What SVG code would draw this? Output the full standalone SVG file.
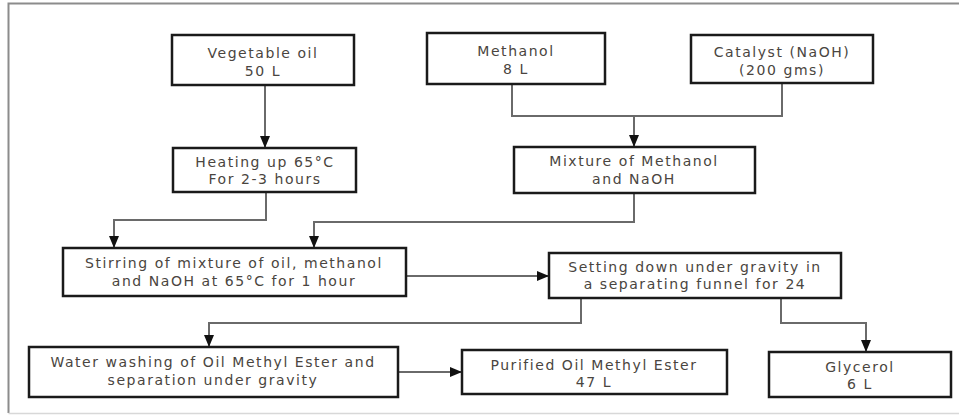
<svg xmlns="http://www.w3.org/2000/svg" width="959" height="416" viewBox="0 0 959 416">
<defs>
<style>
.box{fill:#fff;stroke:#1a1a1a;stroke-width:2.5}
.t{font-family:"DejaVu Sans",sans-serif;font-size:14px;fill:#4a4540;text-anchor:middle;letter-spacing:1.55px}
.c{fill:none;stroke:#6a6a6a;stroke-width:2}
</style>
<marker id="ah" viewBox="0 0 12 10" refX="12" refY="5" markerWidth="12" markerHeight="10" markerUnits="userSpaceOnUse" orient="auto">
<path d="M0,0 L12,5 L0,10 z" fill="#111"/>
</marker>
</defs>
<rect width="959" height="416" fill="#fff"/>
<path d="M959,3.5 H8.5 V413" fill="none" stroke="#8c8c8c" stroke-width="2"/>
<path d="M8.5,413.5 H959" fill="none" stroke="#d8d8d8" stroke-width="1.5"/>
<g id="connectors">
<path class="c" d="M265,85 V148" marker-end="url(#ah)"/>
<path class="c" d="M512,84 V116 H782 V83"/>
<path class="c" d="M634,116 V147" marker-end="url(#ah)"/>
<path class="c" d="M266,192 V220 H114 V248" marker-end="url(#ah)"/>
<path class="c" d="M634,193 V222 H314 V248" marker-end="url(#ah)"/>
<path class="c" d="M406,276 H549" marker-end="url(#ah)"/>
<path class="c" d="M581,298 V323 H209 V347" marker-end="url(#ah)"/>
<path class="c" d="M781,298 V323 H866 V352" marker-end="url(#ah)"/>
<path class="c" d="M398,372 H462" marker-end="url(#ah)"/>
</g>
<g id="veg"><rect class="box" x="172" y="35" width="182" height="50"/>
<text class="t" x="263" y="58">Vegetable oil</text><text class="t" x="263" y="76">50 L</text></g>
<g id="methanol"><rect class="box" x="427" y="33" width="178" height="51"/>
<text class="t" x="516" y="56">Methanol</text><text class="t" x="516" y="74">8 L</text></g>
<g id="catalyst"><rect class="box" x="691" y="35" width="182" height="48"/>
<text class="t" x="782" y="57">Catalyst (NaOH)</text><text class="t" x="782" y="75">(200 gms)</text></g>
<g id="heating"><rect class="box" x="173" y="148" width="183" height="44"/>
<text class="t" x="265" y="167">Heating up 65°C</text><text class="t" x="265" y="184">For 2-3 hours</text></g>
<g id="mixture"><rect class="box" x="514" y="147" width="241" height="46"/>
<text class="t" x="634" y="166">Mixture of Methanol</text><text class="t" x="634" y="184">and NaOH</text></g>
<g id="stirring"><rect class="box" x="63" y="248" width="343" height="48"/>
<text class="t" x="234" y="268">Stirring of mixture of oil, methanol</text><text class="t" x="234" y="286">and NaOH at 65°C for 1 hour</text></g>
<g id="settling"><rect class="box" x="549" y="253" width="292" height="45"/>
<text class="t" x="695" y="272">Setting down under gravity in</text><text class="t" x="695" y="289">a separating funnel for 24</text></g>
<g id="washing"><rect class="box" x="29" y="347" width="369" height="50"/>
<text class="t" x="213" y="367">Water washing of Oil Methyl Ester and</text><text class="t" x="213" y="385">separation under gravity</text></g>
<g id="purified"><rect class="box" x="462" y="350" width="265" height="44"/>
<text class="t" x="594" y="370">Purified Oil Methyl Ester</text><text class="t" x="594" y="387">47 L</text></g>
<g id="glycerol"><rect class="box" x="769" y="352" width="182" height="45"/>
<text class="t" x="860" y="372">Glycerol</text><text class="t" x="860" y="389">6 L</text></g>
</svg>
